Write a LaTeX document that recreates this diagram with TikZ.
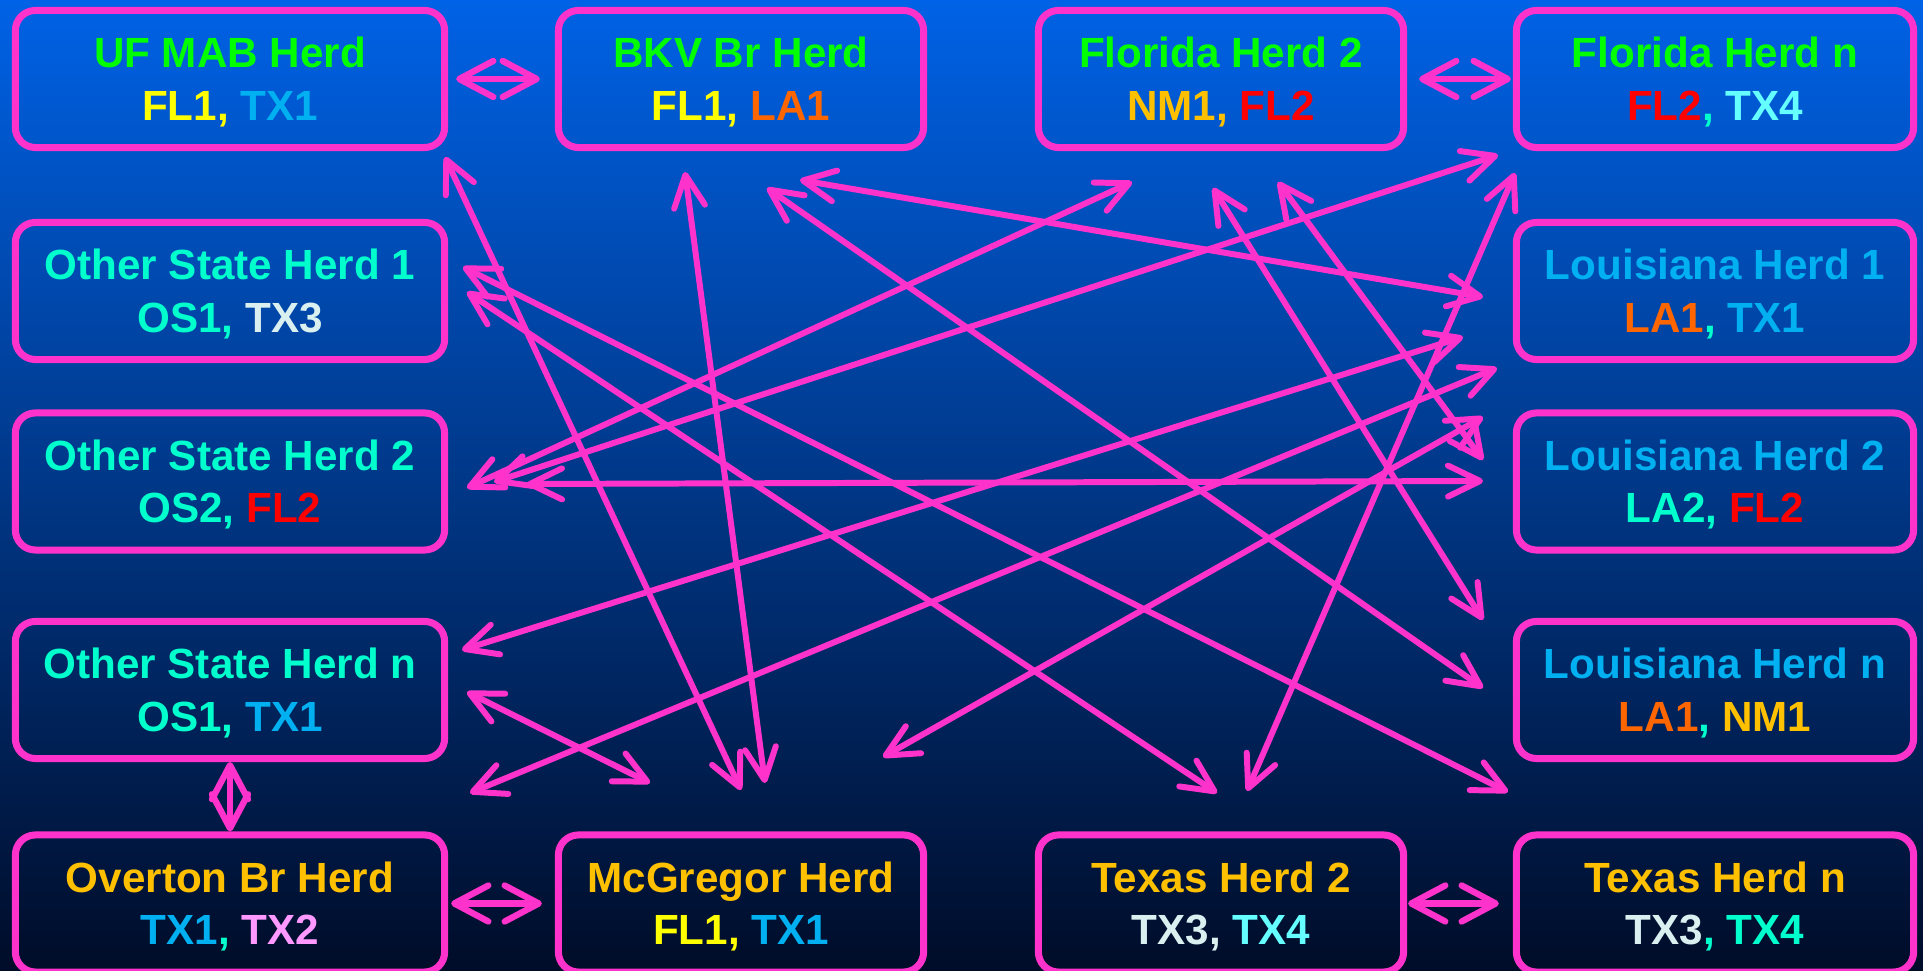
\documentclass[tikz,border=0pt]{standalone}
\usepackage{fontspec}
\setmainfont{Liberation Sans}
\usetikzlibrary{arrows.meta}
\definecolor{bgtop}{RGB}{0,98,230}
\definecolor{bgmid}{RGB}{0,63,152}
\definecolor{bgbot}{RGB}{0,12,40}
\definecolor{pinkc}{RGB}{255,51,204}
\definecolor{hgreen}{RGB}{0,255,0}
\definecolor{hyellow}{RGB}{255,255,0}
\definecolor{hblue}{RGB}{0,176,240}
\definecolor{horange}{RGB}{255,102,0}
\definecolor{hgold}{RGB}{255,192,0}
\definecolor{hred}{RGB}{255,0,0}
\definecolor{hcyan}{RGB}{102,255,255}
\definecolor{haqua}{RGB}{0,255,204}
\definecolor{hpale}{RGB}{218,240,240}
\definecolor{hpink}{RGB}{255,153,255}
\newcommand\hc[2]{\textcolor{#1}{#2}}
\newcommand\hstrut{\rule{0pt}{10.4pt}}
\begin{document}
\begin{tikzpicture}[x=0.01cm,y=-0.01cm,
  herd/.style={draw=pinkc, line width=2pt, rounded corners=0.2cm, inner sep=0pt,
    align=center, minimum height=1.37cm, font=\fontsize{12}{15}\selectfont\bfseries},
  wA/.style={minimum width=4.29cm},
  wB/.style={minimum width=3.65cm},
  wD/.style={minimum width=3.97cm},
  link/.style={draw=pinkc, line width=1.7pt, line cap=round,
    {Straight Barb[length=3.2mm,width=3.1mm,round]}-{Straight Barb[length=3.2mm,width=3.1mm,round]}},
  shortlink/.style={draw=pinkc, line width=1.8pt, line cap=round,
    {Straight Barb[length=3.4mm,width=3.6mm,round]}-{Straight Barb[length=3.4mm,width=3.6mm,round]}}
]
\useasboundingbox (0,0) rectangle (1923,971);
\shade[top color=bgtop, middle color=bgmid, bottom color=bgbot] (0,0) rectangle (1923,971);

% boxes
\node[herd,wA,text=hgreen] (ufmab) at (230,79) {\hstrut UF MAB Herd\\\hc{hyellow}{FL1,} \hc{hblue}{TX1}};
\node[herd,wB,text=hgreen] (bkv) at (741,79) {\hstrut BKV Br Herd\\\hc{hyellow}{FL1,} \hc{horange}{LA1}};
\node[herd,wB,text=hgreen] (fh2) at (1221,79) {\hstrut Florida Herd 2\\\hc{hgold}{NM1,} \hc{hred}{FL2}};
\node[herd,wD,text=hgreen] (fhn) at (1715,79) {\hstrut Florida Herd n\\\hc{hred}{FL2}\hc{haqua}{,} \hc{hcyan}{TX4}};

\node[herd,wA,text=haqua] (os1) at (230,291) {\hstrut Other State Herd 1\\OS1, \hc{hpale}{TX3}};
\node[herd,wA,text=haqua] (os2) at (230,481.5) {\hstrut Other State Herd 2\\OS2, \hc{hred}{FL2}};
\node[herd,wA,text=haqua] (osn) at (230,690) {\hstrut Other State Herd n\\OS1, \hc{hblue}{TX1}};

\node[herd,wD,text=hblue] (la1) at (1715,291) {\hstrut Louisiana Herd 1\\\hc{horange}{LA1}\hc{haqua}{,} \hc{hblue}{TX1}};
\node[herd,wD,text=hblue] (la2) at (1715,481.5) {\hstrut Louisiana Herd 2\\\hc{haqua}{LA2,} \hc{hred}{FL2}};
\node[herd,wD,text=hblue] (lan) at (1715,690) {\hstrut Louisiana Herd n\\\hc{horange}{LA1}\hc{haqua}{,} \hc{hgold}{NM1}};

\node[herd,wA,text=hgold] (overton) at (230,903.5) {\hstrut Overton Br Herd\\\hc{hblue}{TX1}\hc{haqua}{,} \hc{hpink}{TX2}};
\node[herd,wB,text=hgold] (mcg) at (741,903.5) {\hstrut McGregor Herd\\\hc{hyellow}{FL1,} \hc{hblue}{TX1}};
\node[herd,wB,text=hgold] (tx2) at (1221,903.5) {\hstrut Texas Herd 2\\\hc{hpale}{TX3,} \hc{hcyan}{TX4}};
\node[herd,wD,text=hgold] (txn) at (1715,903.5) {\hstrut Texas Herd n\\\hc{hpale}{TX3}\hc{haqua}{,} \hc{haqua}{TX4}};

% short connectors between neighbours
\draw[shortlink, shorten <=0.08cm, shorten >=0.15cm] (ufmab.east) -- (bkv.west);
\draw[shortlink, shorten <=0.12cm, shorten >=0.02cm] (fh2.east) -- (fhn.west);
\draw[shortlink, shorten <=0.03cm, shorten >=0.13cm] (overton.east) -- (mcg.west);
\draw[shortlink, shorten <=0.01cm, shorten >=0.14cm] (tx2.east) -- (txn.west);
\draw[shortlink] (osn.south) -- (overton.north);

% end points of the long connectors
\coordinate (uA) at (445,157);   \coordinate (mA) at (741,790);
\coordinate (bA) at (685,172);   \coordinate (mB) at (765,783);
\coordinate (bB) at (767,188);   \coordinate (nA) at (1483,688);
\coordinate (bC) at (800,180);   \coordinate (lA) at (1483,297);
\coordinate (oA) at (463,267);   \coordinate (tA) at (1508,792);
\coordinate (oB) at (467,292);   \coordinate (tB) at (1217,793);
\coordinate (pA) at (467,488);   \coordinate (fA) at (1132,182);
\coordinate (pB) at (494,482);   \coordinate (gA) at (1498,155);
\coordinate (pC) at (527,484);   \coordinate (kA) at (1483,481);
\coordinate (qA) at (462,650);   \coordinate (lB) at (1463,337);
\coordinate (qB) at (470,793);   \coordinate (lC) at (1497,368);
\coordinate (qC) at (467,692);   \coordinate (mC) at (650,783);
\coordinate (mD) at (883,757);   \coordinate (kB) at (1483,417);
\coordinate (fB) at (1213,188);  \coordinate (nB) at (1483,620);
\coordinate (fC) at (1278,182);  \coordinate (kC) at (1483,460);
\coordinate (gB) at (1515,173);  \coordinate (tC) at (1247,791);

\draw[link] (uA) -- (mA);
\draw[link] (bA) -- (mB);
\draw[link] (bB) -- (nA);
\draw[link] (bC) -- (lA);
\draw[link] (oA) -- (tA);
\draw[link] (oB) -- (tB);
\draw[link] (pA) -- (fA);
\draw[link] (pB) -- (gA);
\draw[link] (pC) -- (kA);
\draw[link] (qA) -- (lB);
\draw[link] (qB) -- (lC);
\draw[link] (qC) -- (mC);
\draw[link] (mD) -- (kB);
\draw[link] (fB) -- (nB);
\draw[link] (fC) -- (kC);
\draw[link] (gB) -- (tC);
\end{tikzpicture}
\end{document}
